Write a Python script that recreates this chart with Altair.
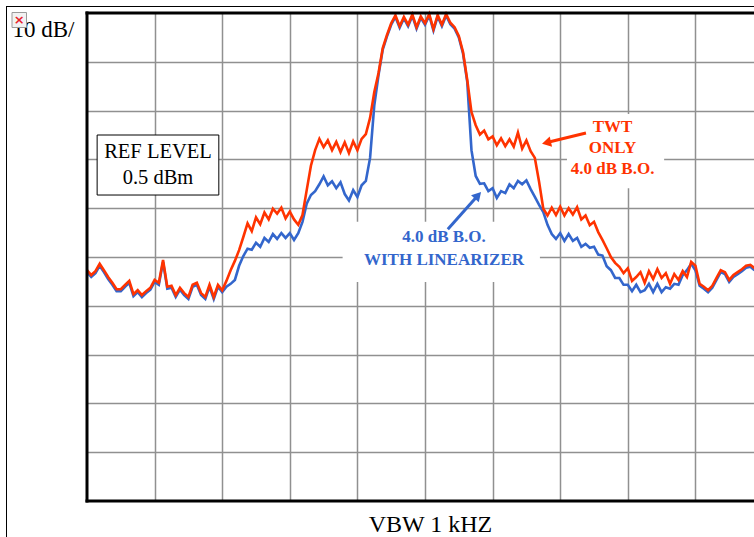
import altair as alt
import pandas as pd

# Spectrum analyser display: 10 dB per vertical division below a 0.5 dBm reference,
# sweep sampled at 16 trace points per horizontal division.
ref_level_dbm = 0.5
db_per_div = 10
points_per_div = 16
visible_points = 157.87

# TWT alone, 4.0 dB output back-off
twt_only_dbm = [
    -52.2, -53.2, -52.4, -50.9, -52.2, -53.6, -54.8, -56.1, -56.1, -55.2,
    -54.4, -57.1, -56.3, -57.3, -56.5, -55.8, -54.2, -54.8, -50.1, -55.6,
    -55.4, -57.3, -55.8, -56.9, -57.7, -55.2, -54.8, -56.9, -57.7, -55.2,
    -57.7, -55.2, -56.3,
    -54.4, -52.2, -50.3, -48.1, -45.4, -42.6, -44.2, -41.4, -42.8, -40.4,
    -41.8, -39.6, -40.6, -39.4, -41.6, -40.2, -41.8, -42.9, -40.9, -35.8,
    -30.8, -27.6, -25.3, -27.0, -25.6, -27.6, -25.9, -28.0, -26.0, -28.2,
    -25.8, -27.6, -25.3, -24.3, -21.0, -15.7, -11.8,
    -6.7, -4.0, -1.6, 0.0, -2.2, -0.3, -1.9, 0.2, -2.4, -0.2,
    -1.6, 0.3, -2.8, 0.1, -1.9, 0.3, -1.5, -2.4, -4.2, -7.5, -13.2,
    -19.8, -22.5, -24.4, -23.6, -25.4, -24.8, -26.6, -25.2, -26.8, -25.4,
    -26.9, -24.0, -27.3, -25.6, -27.8, -29.2, -34.1, -39.6, -41.0, -39.4,
    -40.9, -39.2, -41.0, -39.5, -40.8, -39.3, -41.8, -41.0, -43.0, -42.3,
    -44.4, -46.0, -47.7, -49.5, -50.7, -51.5, -52.8, -51.8, -54.4, -53.6,
    -52.6, -54.8, -52.4, -54.0, -52.0, -53.8, -52.8, -55.0, -53.0, -54.2,
    -52.4, -53.6, -50.5, -51.3, -55.0, -55.6, -56.3, -55.4, -53.8, -52.2,
    -52.6, -54.2, -53.2, -52.6, -52.0, -51.3, -51.1, -51.8,
]

# Same back-off with the linearizer in circuit
linearizer_dbm = [
    -52.6, -53.6, -52.8, -51.3, -52.6, -54.0, -55.2, -56.5, -56.5, -55.6,
    -54.8, -57.5, -56.7, -57.7, -56.9, -56.2, -54.6, -55.2, -50.5, -56.0,
    -55.8, -57.7, -56.2, -57.3, -58.1, -55.6, -55.2, -57.3, -58.1, -55.6,
    -58.1, -55.6, -56.7,
    -55.6, -55.0, -54.2, -51.3, -49.3, -47.8, -48.0, -46.6, -47.4, -45.6,
    -46.4, -44.8, -45.8, -44.6, -45.6, -44.6, -46.0, -44.6, -42.3, -38.6,
    -36.8, -36.0, -34.6, -33.0, -34.8, -34.0, -35.4, -34.2, -36.6, -37.9,
    -35.8, -37.2, -34.8, -33.9, -29.2, -18.4, -12.2,
    -7.0, -4.3, -1.9, -0.3, -2.5, -0.6, -2.2, -0.1, -2.7, -0.5,
    -1.9, 0.0, -3.1, -0.2, -2.2, 0.0, -1.8, -2.7, -4.5,
    -7.8, -13.6, -27.6, -32.9, -34.5, -34.4, -36.0, -35.4, -37.4, -36.0,
    -36.4, -34.6, -35.4, -33.9, -34.6, -33.8, -35.6, -37.2, -38.8, -40.3,
    -42.9, -44.8, -45.8, -44.6, -46.2, -44.8, -46.2, -45.6, -47.4, -46.8,
    -47.6, -47.4, -49.0, -49.2, -51.4, -52.2, -53.8, -53.8, -55.2, -55.2,
    -56.5, -55.2, -56.7, -56.3, -55.0, -56.7, -55.0, -56.7, -55.7, -56.0,
    -55.0, -55.2, -53.2, -52.2, -50.9, -52.2,
    -55.4, -56.0, -56.7, -55.8, -54.2, -52.6, -53.0, -54.6, -53.6, -53.0,
    -52.4, -51.7, -51.5, -52.2,
]

grid_x = [points_per_div * k for k in range(1, 10)]
grid_y = [ref_level_dbm - db_per_div * k for k in range(1, 10)]
bottom_dbm = ref_level_dbm - 10 * db_per_div

FONT = "Liberation Serif"
RED = "#FF3300"
BLUE = "#3366CC"
GRID = "#909090"

x_enc = alt.X(
    "point:Q",
    scale=alt.Scale(domain=[0, visible_points], nice=False, zero=False),
    axis=alt.Axis(
        values=grid_x, grid=True, gridColor=GRID, gridWidth=1.5,
        domain=False, ticks=False, labels=False,
        title="VBW 1 kHZ", titleFont=FONT, titleFontSize=24,
        titleFontWeight="normal", titleColor="black",
        titleX=343, titleY=30, titleAlign="center", titleBaseline="alphabetic",
    ),
)
y_enc = alt.Y(
    "level:Q",
    scale=alt.Scale(domain=[bottom_dbm, ref_level_dbm], nice=False, zero=False),
    axis=alt.Axis(
        values=grid_y, grid=True, gridColor=GRID, gridWidth=1.5,
        domain=False, ticks=False, labels=False,
        title="10 dB/", titleFont=FONT, titleFontSize=23,
        titleFontWeight="normal", titleColor="black", titleAngle=0,
        titleX=-75, titleY=23, titleAlign="left", titleBaseline="alphabetic",
    ),
)

n = len(twt_only_dbm)
twt_df = pd.DataFrame({"point": list(range(n)), "level": twt_only_dbm})
lin_df = pd.DataFrame({"point": list(range(n)), "level": linearizer_dbm})

# white label backgrounds and the reference-level box
boxes = pd.DataFrame({
    "point": [60.5, 113.6], "point2": [107.2, 136.6],
    "level": [-42.3, -20.2], "level2": [-54.6, -35.4],
})
ref_box = pd.DataFrame({"point": [2.4], "point2": [31.2], "level": [-24.5], "level2": [-36.8]})

box_layer = alt.Chart(boxes).mark_rect(fill="white", stroke=None).encode(
    x=x_enc, x2="point2:Q", y=y_enc, y2="level2:Q")
ref_box_layer = alt.Chart(ref_box).mark_rect(fill="white", stroke="black", strokeWidth=1).encode(
    x=x_enc, x2="point2:Q", y=y_enc, y2="level2:Q")

lin_line = alt.Chart(lin_df).mark_line(color=BLUE, strokeWidth=2.6).encode(x=x_enc, y=y_enc)
twt_line = alt.Chart(twt_df).mark_line(color=RED, strokeWidth=2.6).encode(x=x_enc, y=y_enc)

# heavy graticule border (left, top, bottom)
frame_h = alt.Chart(pd.DataFrame({"level": [ref_level_dbm, bottom_dbm]})).mark_rule(
    color="black", strokeWidth=3, strokeCap="square").encode(y=y_enc)
frame_v = alt.Chart(pd.DataFrame({"point": [0]})).mark_rule(
    color="black", strokeWidth=3, strokeCap="square").encode(x=x_enc)

ref_text = pd.DataFrame({"point": [16.8, 16.8], "level": [-29.3, -34.5],
                         "label": ["REF LEVEL", "0.5 dBm"]})
ref_text_layer = alt.Chart(ref_text).mark_text(
    font=FONT, fontSize=20.5, color="black", align="center", baseline="alphabetic"
).encode(x=x_enc, y=y_enc, text="label:N")

twt_text = pd.DataFrame({"point": [124.4, 124.4, 124.4], "level": [-23.8, -28.2, -32.5],
                         "label": ["TWT", "ONLY", "4.0 dB B.O."]})
twt_text_layer = alt.Chart(twt_text).mark_text(
    font=FONT, fontSize=17, fontWeight="bold", color=RED, align="center", baseline="alphabetic"
).encode(x=x_enc, y=y_enc, text="label:N")

lin_text = pd.DataFrame({"point": [84.5, 84.5], "level": [-46.4, -51.1],
                         "label": ["4.0 dB B.O.", "WITH LINEARIZER"]})
lin_text_layer = alt.Chart(lin_text).mark_text(
    font=FONT, fontSize=17, fontWeight="bold", color=BLUE, align="center", baseline="alphabetic"
).encode(x=x_enc, y=y_enc, text="label:N")

# arrows pointing at each trace
red_shaft = alt.Chart(pd.DataFrame({"point": [118.1], "level": [-24.1],
                                    "point2": [109.1], "level2": [-26.0]})).mark_rule(
    color=RED, strokeWidth=3).encode(x=x_enc, y=y_enc, x2="point2:Q", y2="level2:Q")
red_head = alt.Chart(pd.DataFrame({"point": [109.1], "level": [-26.0]})).mark_point(
    shape="triangle", filled=True, color=RED, size=110, angle=257, opacity=1).encode(x=x_enc, y=y_enc)
blue_shaft = alt.Chart(pd.DataFrame({"point": [85.4], "level": [-43.8],
                                     "point2": [92.3], "level2": [-37.1]})).mark_rule(
    color=BLUE, strokeWidth=3).encode(x=x_enc, y=y_enc, x2="point2:Q", y2="level2:Q")
blue_head = alt.Chart(pd.DataFrame({"point": [92.3], "level": [-37.1]})).mark_point(
    shape="triangle", filled=True, color=BLUE, size=110, angle=42.5, opacity=1).encode(x=x_enc, y=y_enc)

# thin page border and placeholder icon
page_left = alt.Chart(pd.DataFrame({"k": [0]})).mark_rule(color="black", strokeWidth=1).encode(
    x=alt.value(-80.5), y=alt.value(-7), y2=alt.value(530))
page_top = alt.Chart(pd.DataFrame({"k": [0]})).mark_rule(color="black", strokeWidth=1).encode(
    y=alt.value(-6.5), x=alt.value(-81), x2=alt.value(680))
icon_box = alt.Chart(pd.DataFrame({"k": [0]})).mark_rect(
    fill="#f2f2f2", stroke="#9a9a9a", strokeWidth=1).encode(
    x=alt.value(-75), x2=alt.value(-60.5), y=alt.value(-0.5), y2=alt.value(14.5))
icon_x = alt.Chart(pd.DataFrame({"k": [0]})).mark_text(
    text="\u00d7", color="#e8202a", fontSize=13, fontWeight="bold", font="DejaVu Sans",
    align="center", baseline="middle").encode(x=alt.value(-67.7), y=alt.value(6.5))

chart = alt.layer(
    box_layer, ref_box_layer, lin_line, twt_line, frame_h, frame_v,
    ref_text_layer, twt_text_layer, lin_text_layer,
    red_shaft, red_head, blue_shaft, blue_head,
    page_left, page_top, icon_box, icon_x,
).properties(
    width=667, height=488,
    padding={"left": 87, "top": 13, "right": 0, "bottom": 36},
    autosize=alt.AutoSizeParams(type="none"),
    background="white",
).configure_view(stroke=None)

chart.save("out.html", embed_options={"renderer": "svg", "actions": False})
